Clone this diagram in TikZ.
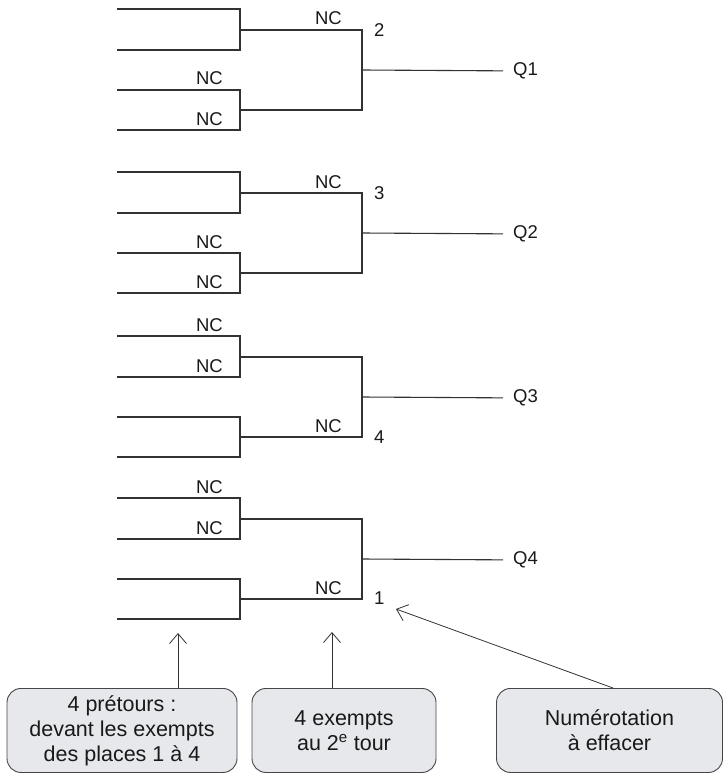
\documentclass[tikz,border=0pt]{standalone}
\usepackage{fontspec}
\setmainfont{Liberation Sans}
\usetikzlibrary{positioning,arrows.meta}

\definecolor{linegray}{RGB}{50,50,50}
\definecolor{boxfill}{RGB}{230,232,236}
\definecolor{boxline}{RGB}{70,70,70}
\definecolor{textgray}{RGB}{25,25,25}

\begin{document}
\begin{tikzpicture}[
% Change style
	x=1pt, y=-1pt,
	bracket/.style={draw=linegray, line width=1.1pt},
	nc/.style={anchor=base east, inner sep=0pt, text=textgray,
		font=\fontsize{18.5}{18.5}\selectfont},
	seed/.style={anchor=west, inner sep=0pt, text=textgray,
		font=\fontsize{18.5}{18.5}\selectfont},
	qual/.style={anchor=west, inner xsep=10pt, inner ysep=0pt, text=textgray,
		font=\fontsize{18.5}{18.5}\selectfont},
	note/.style={draw=boxline, fill=boxfill, line width=0.9pt, rounded corners=14pt,
		anchor=north, minimum height=84pt, align=center, inner sep=0pt, text=textgray,
		font=\fontsize{21.5}{25}\selectfont},
	post/.style={->, line width=0.8pt, draw=linegray, >={Straight Barb[length=10pt,width=17pt]}}]

\useasboundingbox (0,0) rectangle (724,773);

% Block 1
\draw[bracket] (117,9) -| (240,50) -- (117,50);
\draw[bracket] (117,90) -| (240,130) -- (117,130);
\draw[bracket] (240,30) -| (362,110) -- (240,110);
\coordinate (j1) at (362,70);
\node[qual] (q1) at (503,71) {Q1};
\draw[bracket] (j1) -- (q1);
\node[nc] (nc1a) at (342,25) {NC};
\node[nc] (nc1b) at (223,85) {NC};
\node[nc] (nc1c) at (223,125) {NC};
\node[seed] (s2) at (374,30) {2};

% Block 2
\draw[bracket] (117,172) -| (240,213) -- (117,213);
\draw[bracket] (117,253) -| (240,293) -- (117,293);
\draw[bracket] (240,193) -| (362,273) -- (240,273);
\coordinate (j2) at (362,233);
\node[qual] (q2) at (503,234) {Q2};
\draw[bracket] (j2) -- (q2);
\node[nc] (nc2a) at (342,188) {NC};
\node[nc] (nc2b) at (223,248) {NC};
\node[nc] (nc2c) at (223,288) {NC};
\node[seed] (s3) at (374,193) {3};

% Block 3
\draw[bracket] (117,336) -| (240,377) -- (117,377);
\draw[bracket] (117,417) -| (240,457) -- (117,457);
\draw[bracket] (240,357) -| (362,437) -- (240,437);
\coordinate (j3) at (362,397);
\node[qual] (q3) at (503,398) {Q3};
\draw[bracket] (j3) -- (q3);
\node[nc] (nc3a) at (223,331) {NC};
\node[nc] (nc3b) at (223,372) {NC};
\node[nc] (nc3c) at (342,432) {NC};
\node[seed] (s4) at (374,437) {4};

% Block 4
\draw[bracket] (117,498) -| (240,539) -- (117,539);
\draw[bracket] (117,579) -| (240,619) -- (117,619);
\draw[bracket] (240,519) -| (362,599) -- (240,599);
\coordinate (j4) at (362,559);
\node[qual] (q4) at (503,560) {Q4};
\draw[bracket] (j4) -- (q4);
\node[nc] (nc4a) at (223,493) {NC};
\node[nc] (nc4b) at (223,534) {NC};
\node[nc] (nc4c) at (342,594) {NC};
\node[seed] (s1) at (374,598) {1};

% Notes
\node[note, minimum width=230pt] (note1) at (122,688)
	{4 prétours :\\devant les exempts\\des places 1 à 4};
\node[note, minimum width=184pt] (note2) at (344,688)
	{4 exempts\\au 2\textsuperscript{e} tour};
\node[note, minimum width=226pt] (note3) at (609.5,688)
	{Numérotation\\à effacer};

% Pointers
\coordinate (p1) at (178,633);
\coordinate (p2) at (332,632);
\coordinate (p3) at (396,609);
\draw[post] (note1.north -| p1) -- (p1);
\draw[post] (note2.north -| p2) -- (p2);
\draw[post] ([xshift=3.5pt]note3.north) -- (p3);

\end{tikzpicture}
\end{document}
